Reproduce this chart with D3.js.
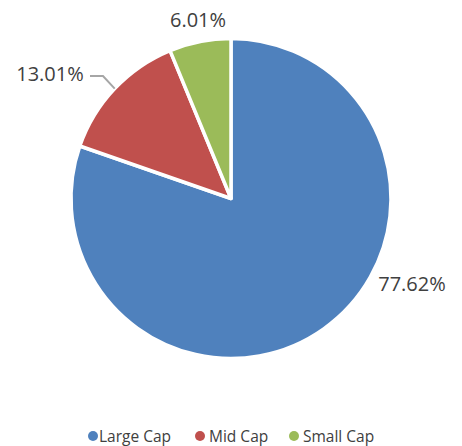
<!DOCTYPE html>
<html>
<head>
<meta charset="utf-8">
<script src="https://cdnjs.cloudflare.com/ajax/libs/d3/7.8.5/d3.min.js"></script>
<style>
  body { margin: 0; background: #fff; }
  text { font-family: "Open Sans", "Liberation Sans", sans-serif; fill: #404040; }
</style>
</head>
<body>
<svg id="chart" width="462" height="446"></svg>
<script>
// chart data
const categories = ['Large Cap', 'Mid Cap', 'Small Cap'];
const values = [77.62, 13.01, 6.01];
const colors = ['#4F81BD', '#C0504D', '#9BBB59'];

// where the percentage labels sit (layout, not data)
const labelSpots = [[412, 283], [50, 73], [198, 19]];

const svg = d3.select('#chart');
const cx = 231, cy = 198.5, radius = 160;

const pie = d3.pie().sort(null).value(d => d);
const arc = d3.arc().innerRadius(0).outerRadius(radius);
const arcs = pie(values);

const g = svg.append('g').attr('transform', 'translate(' + cx + ',' + cy + ')');

g.selectAll('path')
  .data(arcs)
  .enter().append('path')
    .attr('d', arc)
    .attr('fill', (d, i) => colors[i])
    .attr('stroke', '#fff')
    .attr('stroke-width', 3.5)
    .attr('stroke-linejoin', 'round');

// leader line for the mid cap label
const midArc = arcs[1];
const midAngle = (midArc.startAngle + midArc.endAngle) / 2;
const edge = [Math.sin(midAngle) * radius + cx, -Math.cos(midAngle) * radius + cy];
svg.append('polyline')
  .attr('points', [[90, 76], [103, 76], edge].map(p => p.join(',')).join(' '))
  .attr('fill', 'none')
  .attr('stroke', '#A6A6A6')
  .attr('stroke-width', 2);

svg.selectAll('text.pct')
  .data(values)
  .enter().append('text')
    .attr('class', 'pct')
    .attr('x', (d, i) => labelSpots[i][0])
    .attr('y', (d, i) => labelSpots[i][1])
    .attr('text-anchor', 'middle')
    .attr('dominant-baseline', 'central')
    .style('font-size', '20px')
    .text(d => d.toFixed(2) + '%');

// legend
const legendX = [93, 200, 294];
const legend = svg.selectAll('g.leg')
  .data(categories)
  .enter().append('g')
    .attr('class', 'leg')
    .attr('transform', (d, i) => 'translate(' + legendX[i] + ',436)');

legend.append('circle')
  .attr('r', 5)
  .attr('fill', (d, i) => colors[i]);

legend.append('text')
  .attr('x', (d, i) => i === 0 ? 6 : 9)
  .attr('dominant-baseline', 'central')
  .style('font-size', '15.5px')
  .text(d => d);
</script>
</body>
</html>
